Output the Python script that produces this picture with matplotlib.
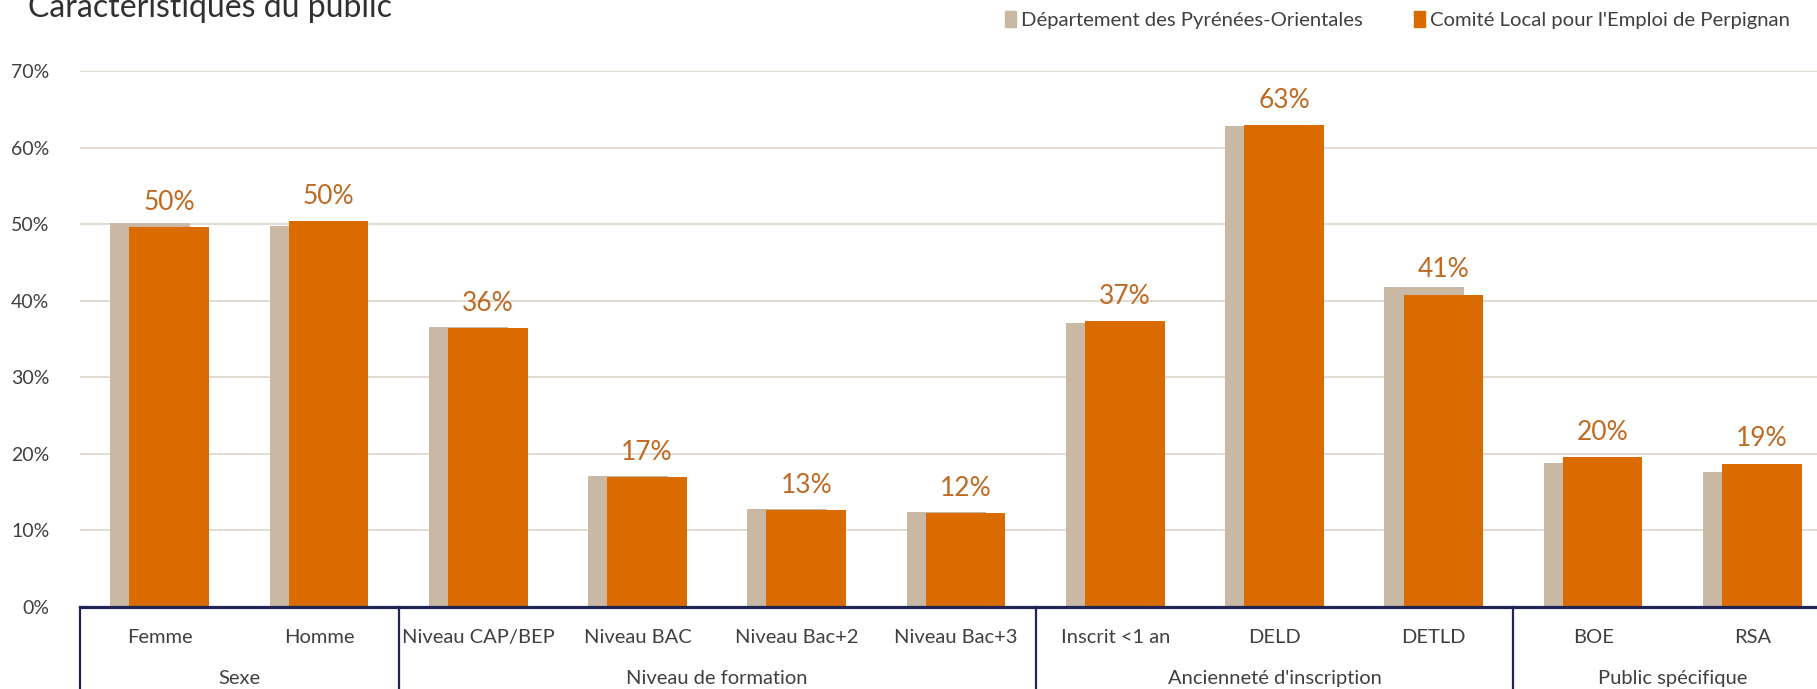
import matplotlib.pyplot as plt
from matplotlib.patches import Patch

plt.rcParams['font.family'] = ['Lato', 'DejaVu Sans']

# data (percent)
categories = ['Femme', 'Homme', 'Niveau CAP/BEP', 'Niveau BAC', 'Niveau Bac+2',
              'Niveau Bac+3', 'Inscrit <1 an', 'DELD', 'DETLD', 'BOE', 'RSA']
groups = ['Sexe', 'Niveau de formation', "Ancienneté d'inscription", 'Public spécifique']
group_sizes = [2, 4, 3, 2]
departement = [50.2, 49.8, 36.6, 17.1, 12.83, 12.36, 37.1, 62.88, 41.78, 18.76, 17.6]
comite = [49.6, 50.4, 36.4, 16.93, 12.66, 12.27, 37.3, 62.9, 40.77, 19.58, 18.7]
series_names = ['Département des Pyrénées-Orientales', "Comité Local pour l'Emploi de Perpignan"]

tan = '#C8B8A4'
orange = '#D96B00'
label_col = '#BF6A22'
navy = '#1F2656'
text_col = '#404040'
grid_col = '#DDD4CA'

W, H = 1817, 689
fig = plt.figure(figsize=(W / 100, H / 100), dpi=100)
# axes: left at 80px, bottom at 607px, top (70%) at 71px, right beyond the figure
ax = fig.add_axes([80 / W, (H - 607) / H, 1752 / W, (607 - 71) / H])

x = list(range(len(categories)))
bw = 0.5
ax.bar([i - 0.06 for i in x], departement, width=bw, color=tan, zorder=2)
bars = ax.bar([i + 0.06 for i in x], comite, width=bw, color=orange, zorder=3)

for b, v in zip(bars, comite):
    ax.annotate(f'{v:.0f}%', (b.get_x() + b.get_width() / 2, v),
                xytext=(0, 12.5), textcoords='offset points',
                ha='center', va='baseline', fontsize=19, color=label_col)

ax.set_xlim(-0.5, 10.5)
ax.set_ylim(0, 70)
ax.set_yticks(range(0, 71, 10))
ax.set_yticklabels([f'{t}%' for t in range(0, 71, 10)], fontsize=14, color=text_col)
ax.tick_params(axis='y', length=0, pad=22)
ax.set_xticks([])
ax.grid(axis='y', color=grid_col, linewidth=1.2)
ax.set_axisbelow(True)
for s in ['left', 'right', 'top']:
    ax.spines[s].set_visible(False)
ax.spines['bottom'].set_color(navy)
ax.spines['bottom'].set_linewidth(2.3)
ax.spines['bottom'].set_zorder(5)

# category and group labels
trans = ax.get_xaxis_transform()
for i, c in enumerate(categories):
    ax.text(i, -0.067, c, transform=trans, ha='center', va='baseline',
            fontsize=14.5, color=text_col)

start = -0.5
for g, n in zip(groups, group_sizes):
    ax.plot([start, start], [0, -0.3], transform=trans, color=navy, lw=1.6,
            clip_on=False, zorder=5)
    ax.text(start + n / 2, -0.1437, g, transform=trans, ha='center', va='baseline',
            fontsize=14.5, color=text_col)
    start += n
ax.plot([start, start], [0, -0.3], transform=trans, color=navy, lw=1.6,
        clip_on=False, zorder=5)

# title (partly cut off at top, as in the source)
fig.text(28 / W, 1 - 17 / H, 'Caractéristiques du public', fontsize=23,
         color='#303030', ha='left', va='baseline')

handles = [Patch(color=tan), Patch(color=orange)]
fig.legend(handles, series_names, loc='center right', bbox_to_anchor=(1790 / W, 1 - 20 / H),
           ncol=2, frameon=False, handlelength=0.55, handleheight=0.8,
           handletextpad=0.25, columnspacing=2.5, borderaxespad=0, borderpad=0,
           labelcolor=text_col, prop={'size': 14.6})

fig.savefig('out.png', dpi=100)
